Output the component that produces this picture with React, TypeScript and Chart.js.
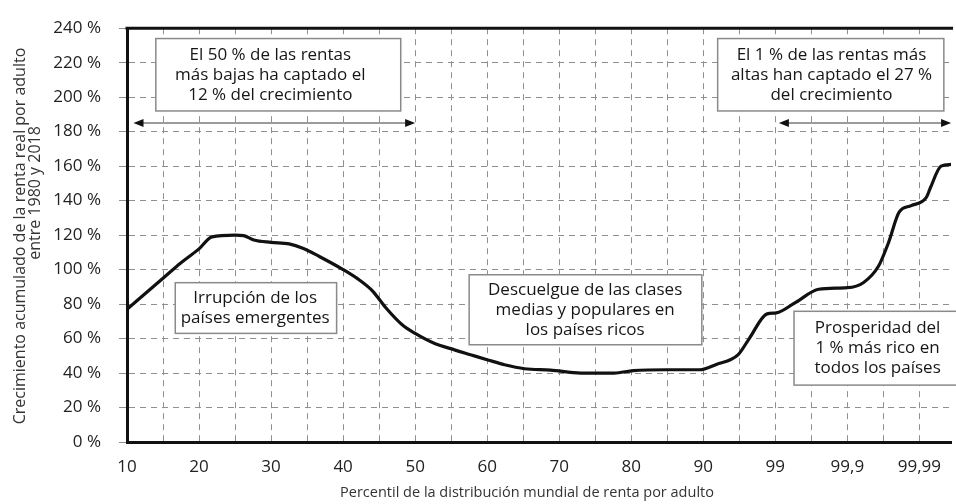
import { useEffect, useRef } from 'react';
import { Chart, registerables } from 'chart.js';

Chart.register(...registerables);

// Percentil de la distribución mundial de renta por adulto
const percentiles = [
  10, 12.5, 15, 17.5, 20, 21.8, 25, 26.2, 27.6, 30, 32.5, 34.4, 36.7, 40, 42.3, 44.1, 45.9, 48.2, 50,
  52.8, 54.8, 57.8, 60.1, 62.4, 65.2, 68.8, 73, 77.6, 80.3, 84.9, 89.5, 93.4, 96.7, 97.7, 98.7, 99.03,
  99.48, 99.75, 99.9, 99.94, 99.963, 99.973, 99.981, 99.987, 99.992, 99.993, 99.995, 99.9964,
];
// Crecimiento acumulado 1980-2018 (%)
const growth = [
  77, 86, 95, 104, 112, 119, 120, 119.7, 117.2, 115.8, 114.9, 112.4, 107.6, 100, 93.8, 87.5, 78, 68, 63,
  57, 54.3, 50.5, 47.6, 44.8, 42.5, 41.7, 40, 40, 41.4, 41.9, 41.9, 45, 50.5, 60, 74.3, 74.9,
  81, 88.6, 89.5, 92.4, 101.9, 115.3, 133.4, 137.1, 141.9, 147.6, 160, 161,
];
const xTickLabels = ['10', '20', '30', '40', '50', '60', '70', '80', '90', '99', '99,9', '99,99'];
const yTickValues = [0, 20, 40, 60, 80, 100, 120, 140, 160, 180, 200, 220, 240];

const yTitle = ['Crecimiento acumulado de la renta real por adulto', 'entre 1980 y 2018'];
const xTitle = 'Percentil de la distribución mundial de renta por adulto';

// annotation boxes in scale units (x: scale position, y: %)
const notes = [
  { lines: ['El 50 % de las rentas', 'más bajas ha captado el', '12 % del crecimiento'], x1: 0.4, x2: 3.8, y1: 192, y2: 234, tx: 1.99 },
  { lines: ['El 1 % de las rentas más', 'altas han captado el 27 %', 'del crecimiento'], x1: 8.2, x2: 11.34, y1: 192, y2: 234, tx: 9.78 },
  { lines: ['Irrupción de los', 'países emergentes'], x1: 0.67, x2: 2.91, y1: 63, y2: 92.4, tx: 1.78 },
  { lines: ['Descuelgue de las clases', 'medias y populares en', 'los países ricos'], x1: 4.75, x2: 7.98, y1: 56.4, y2: 97, tx: 6.36 },
  { lines: ['Prosperidad del', '1 % más rico en', 'todos los países'], x1: 9.26, x2: 11.7, y1: 33, y2: 75.8, tx: 10.42 },
];
const arrows = [
  { from: 0.09, to: 4.0, y: 185 },
  { from: 9.05, to: 11.44, y: 185 },
];

const X_MAX = 11.44;
const FONT = '"Open Sans", "Noto Sans", sans-serif';

function scalePos(p: number): number {
  return p <= 90 ? (p - 10) / 10 : 8 + Math.log10(10 / (100 - p));
}

const annotationPlugin = {
  id: 'annotations',
  beforeDatasetsDraw(chart: any) {
    const { ctx, scales } = chart;
    const xs = scales.x;
    const ys = scales.y;
    ctx.save();
    // arrows
    arrows.forEach((a) => {
      const xa = xs.getPixelForValue(a.from);
      const xb = xs.getPixelForValue(a.to);
      const y = ys.getPixelForValue(a.y);
      ctx.strokeStyle = '#7a7a7a';
      ctx.lineWidth = 1.5;
      ctx.beginPath();
      ctx.moveTo(xa + 6, y);
      ctx.lineTo(xb - 6, y);
      ctx.stroke();
      ctx.fillStyle = '#111';
      ctx.beginPath();
      ctx.moveTo(xa, y);
      ctx.lineTo(xa + 10, y - 4);
      ctx.lineTo(xa + 10, y + 4);
      ctx.closePath();
      ctx.fill();
      ctx.beginPath();
      ctx.moveTo(xb, y);
      ctx.lineTo(xb - 10, y - 4);
      ctx.lineTo(xb - 10, y + 4);
      ctx.closePath();
      ctx.fill();
    });
    // boxes
    notes.forEach((n) => {
      const left = xs.getPixelForValue(n.x1);
      const right = xs.getPixelForValue(n.x2);
      const top = ys.getPixelForValue(n.y2);
      const bottom = ys.getPixelForValue(n.y1);
      ctx.fillStyle = '#fff';
      ctx.fillRect(left, top, right - left, bottom - top);
      ctx.strokeStyle = '#8a8a8a';
      ctx.lineWidth = 1.5;
      ctx.strokeRect(left, top, right - left, bottom - top);
      ctx.fillStyle = '#161616';
      ctx.font = `17px ${FONT}`;
      ctx.textAlign = 'center';
      ctx.textBaseline = 'middle';
      const cx = xs.getPixelForValue(n.tx);
      const cy = (top + bottom) / 2;
      const lh = 20;
      n.lines.forEach((line, i) => {
        ctx.fillText(line, cx, cy + (i - (n.lines.length - 1) / 2) * lh);
      });
    });
    ctx.restore();
  },
  afterDraw(chart: any) {
    const { ctx, chartArea } = chart;
    ctx.save();
    ctx.strokeStyle = '#111';
    ctx.lineWidth = 3;
    ctx.beginPath();
    ctx.moveTo(chartArea.left - 1.5, chartArea.top);
    ctx.lineTo(chartArea.right + 2, chartArea.top);
    ctx.stroke();
    ctx.fillStyle = '#333';
    ctx.textAlign = 'center';
    ctx.textBaseline = 'middle';
    ctx.font = `14.5px ${FONT}`;
    ctx.fillText(xTitle, 527, 493);
    // y title (two lines, rotated)
    ctx.font = `16px ${FONT}`;
    ctx.save();
    ctx.translate(20, 236);
    ctx.rotate(-Math.PI / 2);
    ctx.fillText(yTitle[0], 0, 0);
    ctx.restore();
    ctx.save();
    ctx.translate(35, 193);
    ctx.rotate(-Math.PI / 2);
    ctx.fillText(yTitle[1], 0, 0);
    ctx.restore();
    ctx.restore();
  },
};

export default function App() {
  const ref = useRef<HTMLCanvasElement | null>(null);
  useEffect(() => {
    document.body.style.margin = '0';
    const canvas = ref.current;
    if (!canvas) return;
    const data = percentiles.map((p, i) => ({ x: scalePos(p), y: growth[i] }));
    const chart = new Chart(canvas, {
      type: 'line',
      data: {
        datasets: [
          {
            data,
            borderColor: '#111',
            borderWidth: 3.2,
            pointRadius: 0,
            cubicInterpolationMode: 'monotone',
            fill: false,
          },
        ],
      },
      options: {
        animation: false,
        responsive: false,
        layout: { padding: { top: 22, left: 0, right: 0, bottom: 0 } },
        plugins: { legend: { display: false }, tooltip: { enabled: false } },
        scales: {
          x: {
            type: 'linear',
            min: 0,
            max: X_MAX,
            afterBuildTicks: (s: any) => {
              const t = [];
              for (let i = 0; i <= 22; i++) t.push({ value: i * 0.5 });
              s.ticks = t;
            },
            afterFit: (s: any) => {
              s.height = 62;
            },
            ticks: {
              autoSkip: false,
              maxRotation: 0,
              padding: 15,
              color: '#222',
              font: { family: FONT, size: 17 },
              callback: (v: any) => (Number.isInteger(v) ? xTickLabels[v] : ''),
            },
            grid: { color: '#8f8f8f', lineWidth: 1, drawTicks: false },
            border: { display: true, color: '#111', width: 3, dash: [6, 5] },
          },
          y: {
            min: 0,
            max: 240,
            afterBuildTicks: (s: any) => {
              s.ticks = yTickValues.map((v) => ({ value: v }));
            },
            afterFit: (s: any) => {
              s.width = 127;
            },
            ticks: {
              padding: 18,
              color: '#222',
              font: { family: FONT, size: 17 },
              callback: (v: any) => `${v} %`,
            },
            grid: { color: '#8f8f8f', lineWidth: 1, drawTicks: true, tickLength: 8 },
            border: { display: true, color: '#111', width: 3, dash: [6, 5] },
          },
        },
      },
      plugins: [annotationPlugin],
    } as any);
    return () => chart.destroy();
  }, []);
  return (
    <div style={{ width: 956, height: 504 }}>
      <canvas ref={ref} width={956} height={504} />
    </div>
  );
}
